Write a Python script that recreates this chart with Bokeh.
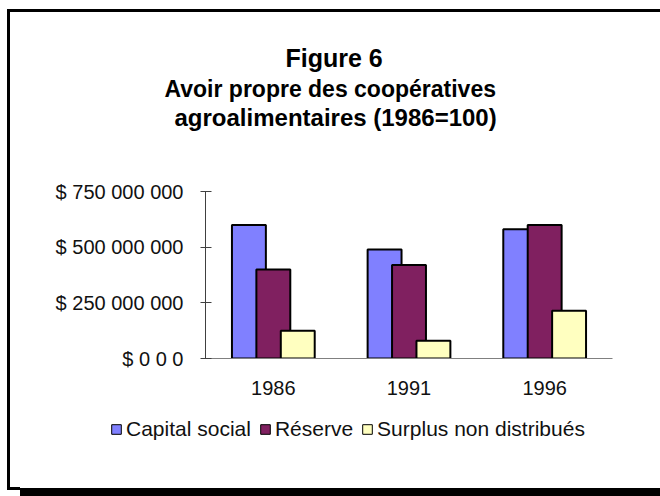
from bokeh.plotting import figure
from bokeh.layouts import column
from bokeh.models import (FactorRange, Range1d, FixedTicker, Legend, LegendItem,
                          Title, ColumnDataSource)
from bokeh.transform import dodge
from bokeh.embed import file_html
from bokeh.resources import INLINE

# ---- data ----
years = ["1986", "1991", "1996"]
capital_social = [600e6, 490e6, 580e6]
reserve = [400e6, 420e6, 600e6]
surplus = [125e6, 80e6, 215e6]
series_names = ["Capital social", "Réserve", "Surplus non distribués"]
y_ticks = [0, 250000000, 500000000, 750000000]
y_tick_labels = ["$ 0 0 0", "$ 250 000 000", "$ 500 000 000", "$ 750 000 000"]
title_lines = ["Figure 6", "Avoir propre des coopératives", "agroalimentaires (1986=100)"]

colors = ["#8080FF", "#802060", "#FFFFC0"]
FONT = "Liberation Sans"
cols = ["capital", "reserve", "surplus"]

src = ColumnDataSource(dict(year=years, capital=capital_social, reserve=reserve, surplus=surplus))

# ---------------- main chart ----------------
p = figure(x_range=FactorRange(*years), y_range=Range1d(0, 750e6),
           frame_width=407, frame_height=167,
           min_border_left=205, min_border_right=48, min_border_top=191, min_border_bottom=42,
           output_backend="svg", toolbar_location=None,
           background_fill_color="white", border_fill_alpha=0,
           outline_line_color=None)

# chart-area frame (upper part), painted behind the transparent canvas border
p.styles = {"background": (
    "linear-gradient(#000,#000) 7px 9px / 3px 391px no-repeat, "
    "linear-gradient(#000,#000) 7px 9px / 653px 3px no-repeat, #fff")}

p.xgrid.visible = False
p.ygrid.visible = False

for col, off, c in zip(cols, [-0.18, 0.0, 0.18], colors):
    p.vbar(x=dodge("year", off, range=p.x_range), top=col, width=0.25, source=src,
           fill_color=c, line_color="black", line_width=2)

ya = p.yaxis[0]
ya.ticker = FixedTicker(ticks=y_ticks)
ya.major_label_overrides = dict(zip(y_ticks, y_tick_labels))
ya.minor_tick_line_color = None
ya.major_tick_in = 6
ya.major_tick_out = 5
ya.axis_line_color = "#404040"
ya.major_tick_line_color = "#404040"
ya.major_label_text_font = FONT
ya.major_label_text_font_size = "20px"
ya.major_label_text_color = "#111111"
ya.major_label_standoff = 17

xa = p.xaxis[0]
xa.major_tick_line_color = None
xa.minor_tick_line_color = None
xa.axis_line_color = "#808080"
xa.major_label_text_font = FONT
xa.major_label_text_font_size = "20px"
xa.major_label_text_color = "#111111"
xa.major_label_standoff = 16

# titles, stacked from the frame outward (first one is a blank spacer)
p.add_layout(Title(text=" ", text_font_size="1px", standoff=58), "above")
for txt, size, so, off in [(title_lines[2], "24px", 0, -31),
                           (title_lines[1], "23px", 0, -41),
                           (title_lines[0], "25px", 4, 80)]:
    p.add_layout(Title(text=txt, align="left", offset=off, text_font=FONT, text_font_size=size,
                       text_font_style="bold", text_color="black", standoff=so), "above")

# ---------------- legend strip ----------------
p2 = figure(width=660, height=96, x_range=p.x_range, y_range=Range1d(2e9, 3e9),
            x_axis_type=None, y_axis_type=None, min_border=0,
            output_backend="svg", toolbar_location=None,
            background_fill_alpha=0, border_fill_alpha=0, outline_line_color=None)
p2.styles = {"background": (
    "linear-gradient(#000,#000) 7px 0px / 3px 90px no-repeat, "
    "linear-gradient(#000,#000) 7px 87px / 13px 3px no-repeat, "
    "linear-gradient(#000,#000) 20px 88px / 640px 8px no-repeat, #fff")}

leg_x = 110
if "frame_align" in p2.properties():
    p.frame_align = False
    p2.frame_align = False
else:
    leg_x = 110 - 205

# legend keys: same series, lying below this strip's visible y range
key_renderers = [p2.vbar(x="year", top=col, width=0.25, source=src,
                         fill_color=c, line_color="black", line_width=1)
                 for col, c in zip(cols, colors)]
legend = Legend(items=[LegendItem(label=n, renderers=[r]) for n, r in zip(series_names, key_renderers)],
                orientation="horizontal", location=(leg_x, 55),
                glyph_width=12, glyph_height=12,
                label_text_font=FONT, label_text_font_size="21px", label_text_color="#111111",
                label_standoff=4, spacing=8, padding=0, margin=0,
                border_line_color=None, background_fill_alpha=0)
p2.add_layout(legend, "center")

layout = column(p, p2, spacing=0)
open("out.html", "w").write(file_html(layout, INLINE))
